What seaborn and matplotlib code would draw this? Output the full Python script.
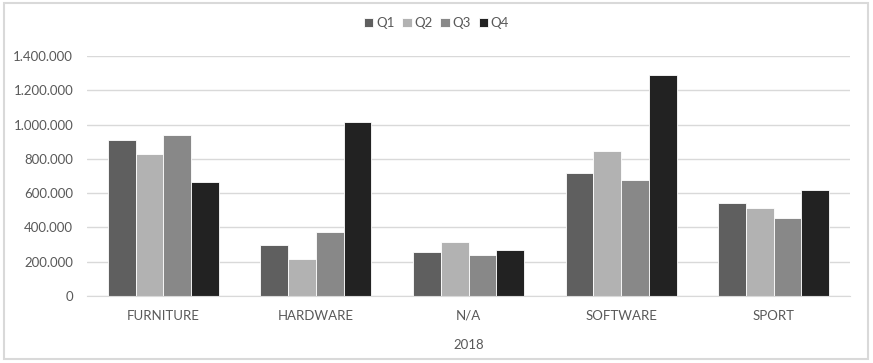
import pandas as pd
import matplotlib.pyplot as plt
import seaborn as sns
from matplotlib.patches import Rectangle
from matplotlib.ticker import FuncFormatter

# Daten
categories = ["FURNITURE", "HARDWARE", "N/A", "SOFTWARE", "SPORT"]
quarters = ["Q1", "Q2", "Q3", "Q4"]
q1 = [908000, 296000, 257000, 715000, 541000]
q2 = [826000, 214000, 317000, 846000, 512000]
q3 = [937000, 373000, 241000, 679000, 457000]
q4 = [665000, 1013000, 267000, 1291000, 617000]
colors = ["#5f5f5f", "#b2b2b2", "#888888", "#222222"]

rows = []
for q, vals in zip(quarters, [q1, q2, q3, q4]):
    for cat, v in zip(categories, vals):
        rows.append({"category": cat, "quarter": q, "value": v})
df = pd.DataFrame(rows)

sns.set_style("white")
plt.rcParams["font.family"] = ["Lato", "DejaVu Sans"]
text_color = "#595959"
fs = 9.5

fig = plt.figure(figsize=(8.73, 3.63), dpi=100)
ax = fig.add_axes([87 / 873, 1 - 296 / 363, (850 - 87) / 873, (296 - 56) / 363])

sns.barplot(
    data=df, x="category", y="value", hue="quarter",
    order=categories, hue_order=quarters, palette=colors,
    width=0.727, edgecolor="white", linewidth=0.6, ax=ax
)

ax.set_ylim(0, 1400000)
ax.set_yticks(range(0, 1400001, 200000))
ax.yaxis.set_major_formatter(
    FuncFormatter(lambda v, p: f"{int(v):,}".replace(",", "."))
)
ax.yaxis.grid(True, color="#d9d9d9", linewidth=1)
ax.set_axisbelow(True)
for s in ["top", "right", "left"]:
    ax.spines[s].set_visible(False)
ax.spines["bottom"].set_color("#d9d9d9")
ax.tick_params(axis="both", length=0, colors=text_color, labelsize=fs)
ax.tick_params(axis="x", pad=10)
ax.tick_params(axis="y", pad=10)
ax.set_xlabel("2018", color=text_color, fontsize=fs, labelpad=12)
ax.set_ylabel("")

# Legende über dem ganzen Diagramm zentriert
ax.get_legend().remove()
handles, labels = ax.get_legend_handles_labels()
leg = fig.legend(
    handles, labels, loc="center", bbox_to_anchor=(0.5, 1 - 23 / 363),
    ncol=4, frameon=False, fontsize=fs, handlelength=0.7, handleheight=0.7,
    handletextpad=0.2, columnspacing=0.6
)
for t in leg.get_texts():
    t.set_color(text_color)

# Rahmen
fig.patches.append(Rectangle((4 / 873, 4 / 363), 864 / 873, 356 / 363,
                             transform=fig.transFigure, fill=False,
                             edgecolor="#d9d9d9", linewidth=1.5))

fig.savefig("out.png", dpi=100)
